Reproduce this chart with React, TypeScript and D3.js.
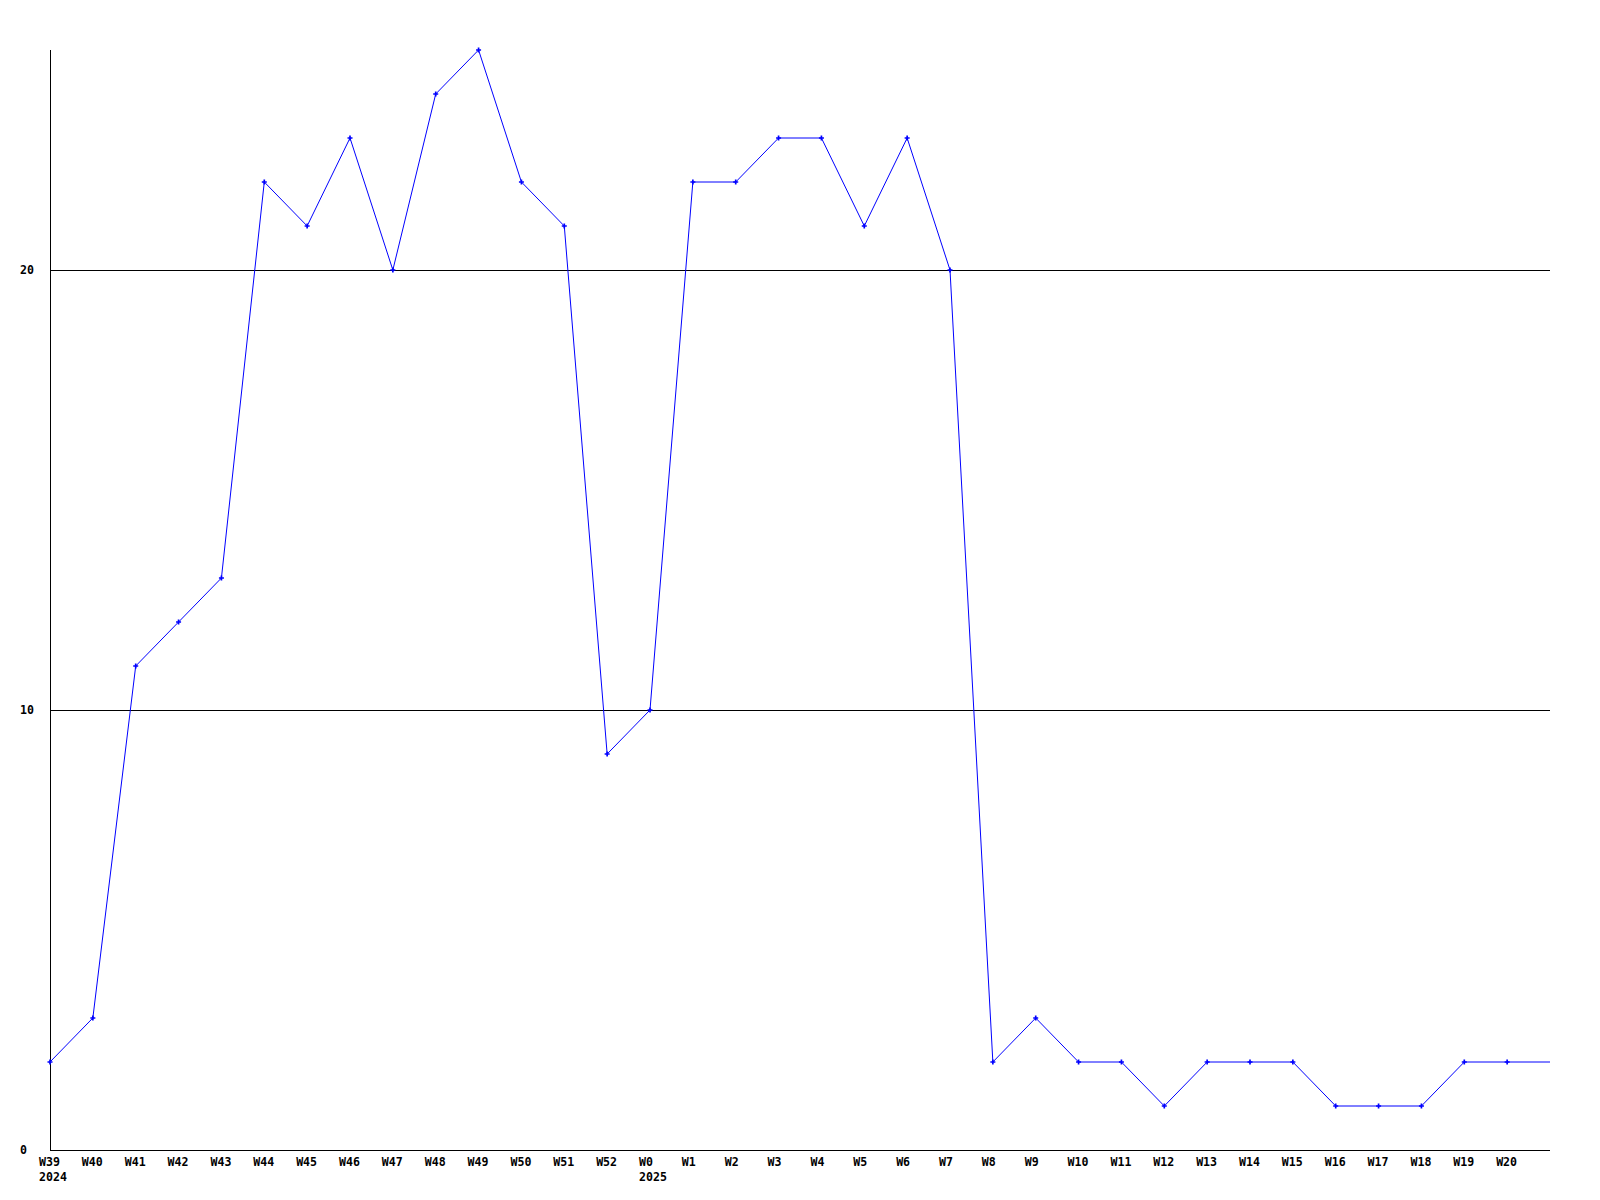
import React from "react";
import * as d3 from "d3";

const weeks = ["W39","W40","W41","W42","W43","W44","W45","W46","W47","W48","W49","W50","W51","W52","W0","W1","W2","W3","W4","W5","W6","W7","W8","W9","W10","W11","W12","W13","W14","W15","W16","W17","W18","W19","W20","W21"];
const values = [2,3,11,12,13,22,21,23,20,24,25,22,21,9,10,22,22,23,23,21,23,20,2,3,2,2,1,2,2,2,1,1,1,2,2,2];
const yearLabels: Record<string,string> = { W39: "2024", W0: "2025" };
const yTicks = [0, 10, 20];
const labeledWeeks = weeks.slice(0, weeks.length - 1);

const W = 1600, H = 1200;
const left = 50, right = 1550, top = 50, bottom = 1150;

export default function App() {
  const x = d3.scalePoint<string>().domain(weeks).range([left, right]);
  const y = d3.scaleLinear().domain([0, 25]).range([bottom, top]);
  const line = d3.line<number>().x((_, i) => x(weeks[i])!).y((v) => y(v));
  const marker = d3.symbol().type(d3.symbolCross).size(14)();
  const font = "'DejaVu Sans Mono', monospace";
  const fs = 11.6;
  return (
    <svg width={W} height={H} style={{ position: "absolute", left: 0, top: 0, background: "#fff" }}>
      <rect x={0} y={0} width={W} height={H} fill="#fff" />
      {yTicks.filter((t) => t > 0).map((t) => (
        <line key={t} x1={left} x2={right} y1={Math.round(y(t)) + 0.5} y2={Math.round(y(t)) + 0.5} stroke="#000" strokeWidth={1} shapeRendering="crispEdges" />
      ))}
      <line x1={left + 0.5} x2={left + 0.5} y1={top} y2={bottom + 1} stroke="#000" shapeRendering="crispEdges" />
      <line x1={left} x2={right} y1={bottom + 0.5} y2={bottom + 0.5} stroke="#000" shapeRendering="crispEdges" />
      {yTicks.map((t) => (
        <text key={t} x={20} y={y(t) + 4} textAnchor="start" fontFamily={font} fontWeight="bold" fontSize={fs} fill="#000">{t}</text>
      ))}
      {labeledWeeks.map((w) => (
        <g key={w}>
          <text x={x(w)! - 11} y={bottom + 16} textAnchor="start" fontFamily={font} fontWeight="bold" fontSize={fs} fill="#000">{w}</text>
          {yearLabels[w] && (
            <text x={x(w)! - 11} y={bottom + 31} textAnchor="start" fontFamily={font} fontWeight="bold" fontSize={fs} fill="#000">{yearLabels[w]}</text>
          )}
        </g>
      ))}
      <path d={line(values) ?? ""} fill="none" stroke="#0000ff" strokeWidth={1} />
      {values.slice(0, values.length - 1).map((v, i) => (
        <path key={i} d={marker!} transform={`translate(${x(weeks[i])},${y(v)})`} fill="#0000ff" />
      ))}
    </svg>
  );
}
